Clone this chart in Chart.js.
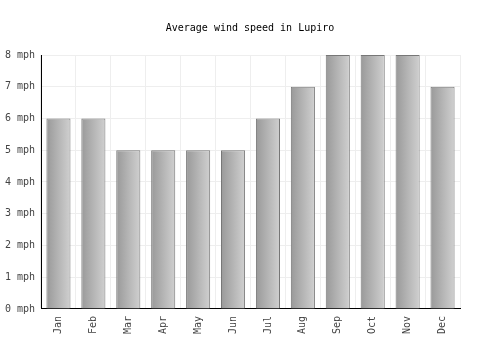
<!DOCTYPE html>
<html><head><meta charset="utf-8">
<script src="https://cdn.jsdelivr.net/npm/chart.js@4"></script>
<style>html,body{margin:0;padding:0;background:#fff}#wrap{width:500px;height:350px}</style>
</head><body><div id="wrap"><canvas id="c" width="500" height="350"></canvas></div>
<script>
const months = ["Jan","Feb","Mar","Apr","May","Jun","Jul","Aug","Sep","Oct","Nov","Dec"];
const windSpeed = [6,6,5,5,5,5,6,7,8,8,8,7];
const yTicks = [0,1,2,3,4,5,6,7,8];
const unit = " mph";

const FONT = "'DejaVu Sans Mono', monospace";
function barFill(ctx){
  const chart = ctx.chart;
  const xs = chart.scales && chart.scales.x;
  if (!xs || ctx.dataIndex === undefined) return '#aaa';
  const cx = xs.getPixelForValue(ctx.dataIndex);
  const w = (xs.right - xs.left) / months.length * 0.69;
  if (!isFinite(cx) || !isFinite(w)) return '#aaa';
  const g = chart.ctx.createLinearGradient(cx - w/2, 0, cx + w/2, 0);
  g.addColorStop(0, '#999999');
  g.addColorStop(1, '#d0d0d0');
  return g;
}
const chart = new Chart(document.getElementById('c'), {
  type: 'bar',
  data: { labels: months, datasets: [{ data: windSpeed, backgroundColor: barFill, borderColor: '#777777', borderWidth: 1, categoryPercentage: 1, barPercentage: 0.69 }] },
  options: {
    responsive: false, animation: false,
    layout: { padding: { left: 0, right: 0, top: 0, bottom: 9 } },
    plugins: {
      legend: { display: false }, tooltip: { enabled: false },
      title: { display: true, text: 'Average wind speed in Lupiro', color: '#000', font: { family: FONT, size: 10, weight: 'normal' }, padding: { top: 22, bottom: 21 } }
    },
    scales: {
      x: {
        grid: { color: '#eeeeee', offset: true, drawTicks: false },
        border: { color: '#000', width: 1 },
        ticks: { color: '#444', font: { family: FONT, size: 10 }, maxRotation: 90, minRotation: 90, padding: 7 }
      },
      y: {
        min: 0, max: 8,
        afterBuildTicks: s => { s.ticks = yTicks.map(v => ({ value: v })); },
        afterFit: s => { s.width = 41; },
        grid: { color: '#eeeeee', drawTicks: false },
        border: { color: '#000', width: 1 },
        ticks: { color: '#444', font: { family: FONT, size: 10 }, padding: 6, callback: v => v + unit }
      },
      yRight: {
        position: 'right', min: 0, max: 8,
        afterFit: s => { s.width = 40; },
        grid: { display: false, drawTicks: false },
        border: { display: false },
        ticks: { display: false }
      }
    }
  }
});
chart.update();
</script></body></html>
